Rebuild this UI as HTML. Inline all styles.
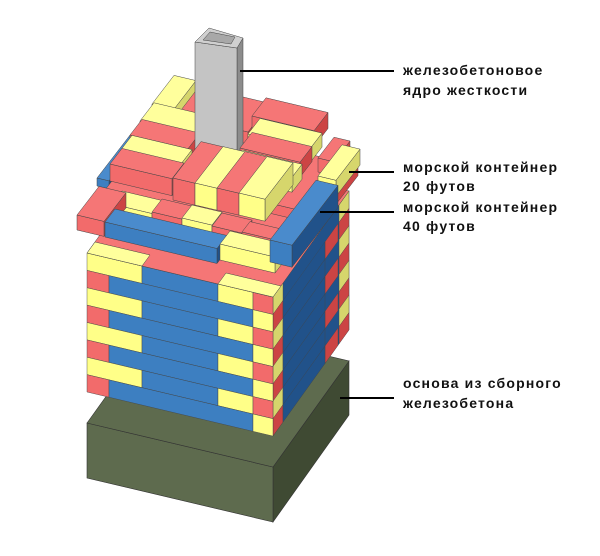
<!DOCTYPE html>
<html><head><meta charset="utf-8"><style>
html,body{margin:0;padding:0;background:#fff;}
svg{display:block;}
text{font-family:"Liberation Sans",sans-serif;font-size:14px;font-weight:bold;letter-spacing:1.2px;fill:#111;}
</style></head><body>
<svg id="s" width="600" height="556" viewBox="0 0 600 556" xmlns="http://www.w3.org/2000/svg">
<polygon points="273,467 349,361 349,415 273,522" fill="#3f4a33" stroke="#333" stroke-width="0.6"/>
<polygon points="87,423 273,467 273,522 87,478" fill="#5e6b4e" stroke="#333" stroke-width="0.6"/>
<polygon points="87,423 273,467 349,361 163,317" fill="#5e6b4e" stroke="#333" stroke-width="0.6"/>
<g id="tower"></g>
<g id="top"></g>
<line x1="240" y1="71" x2="394" y2="71" stroke="#000" stroke-width="2"/>
<line x1="349" y1="172" x2="394" y2="172" stroke="#000" stroke-width="2"/>
<line x1="320" y1="212" x2="394" y2="212" stroke="#000" stroke-width="2"/>
<line x1="340" y1="398" x2="394" y2="398" stroke="#000" stroke-width="2"/>
<text x="403" y="75">железобетоновое</text>
<text x="403" y="95">ядро жесткости</text>
<text x="403" y="172">морской контейнер</text>
<text x="403" y="191">20 футов</text>
<text x="403" y="212">морской контейнер</text>
<text x="403" y="231">40 футов</text>
<text x="403" y="388">основа из сборного</text>
<text x="403" y="408">железобетона</text>
</svg>
<script>
var NS="http://www.w3.org/2000/svg";
var C={Y:["#ffff88","#ffff9c","#d6d66c"],R:["#f26b6b","#f57676","#cc4444"],B:["#3d7fc1","#4a8bcc","#21528a"]};
function poly(g,pts,fill){var p=document.createElementNS(NS,"polygon");p.setAttribute("points",pts.map(function(a){return a[0].toFixed(1)+","+a[1].toFixed(1)}).join(" "));p.setAttribute("fill",fill);p.setAttribute("stroke","#444");p.setAttribute("stroke-width","0.5");p.setAttribute("stroke-linejoin","round");g.appendChild(p);return p;}
function rectT(g,m,x,y,w,h,fill){var r=document.createElementNS(NS,"rect");r.setAttribute("x",x);r.setAttribute("y",y);r.setAttribute("width",w);r.setAttribute("height",h);r.setAttribute("fill",fill);r.setAttribute("stroke","#444");r.setAttribute("stroke-width","0.4");r.setAttribute("transform","matrix("+m+")");g.appendChild(r);}
var s=0.237,t=1.3;
function box(g,x,y,w,d,h,c){var k=C[c];
 poly(g,[[x+w,y+s*w],[x+w+d,y+s*w-t*d],[x+w+d,y+s*w-t*d-h],[x+w,y+s*w-h]],k[2]);
 poly(g,[[x,y],[x+w,y+s*w],[x+w,y+s*w-h],[x,y-h]],k[0]);
 poly(g,[[x,y-h],[x+w,y+s*w-h],[x+w+d,y+s*w-h-t*d],[x+d,y-h-t*d]],k[1]);}
var T=document.getElementById("tower");
var mr="1,-1.395,0,1,273,297";
rectT(T,mr,0,0,76,139,"#21528a");
var lh=139/8;
for(var i=0;i<8;i++){var y=i*lh;
 rectT(T,mr,0,y,10,lh,i%2?"#cc4444":"#d6d66c");
 if(i%2) rectT(T,mr,52,y,13,lh,"#cc4444");
 rectT(T,mr,66,y,10,lh,i%2?"#cc4444":"#d6d66c");
 if(i>0) rectT(T,mr,10,y,42,lh,"#21528a");
}
var mf="1,0.237,0,1,87,253";
for(var i=0;i<8;i++){var y=i*lh;
 if(i%2==0){rectT(T,mf,0,y,55,lh,"#ffff88");rectT(T,mf,55,y,76,lh,"#3d7fc1");rectT(T,mf,131,y,35,lh,"#ffff88");rectT(T,mf,166,y,20,lh,"#f26b6b");}
 else{rectT(T,mf,0,y,22,lh,"#f26b6b");rectT(T,mf,22,y,144,lh,"#3d7fc1");rectT(T,mf,166,y,20,lh,"#ffff88");}
}
poly(T,[[87,253],[273,297],[349,191],[163,147]],"#f57676");
poly(T,[[87,253],[142,266],[150,255],[95,242]],"#ffff9c");
poly(T,[[218,284],[273,297],[281,286],[226,273]],"#ffff9c");
var G=document.getElementById("top");
box(G,97,186,12,34,8,"B");
box(G,105,200,90,38,10,"R");
box(G,235,205,85,38,10,"R");
box(G,168,125,80,22,12,"R");
box(G,152,114,22,22,10,"Y");
box(G,252,132,62,14,16,"R");
box(G,318,172,16,16,14,"R");
box(G,248,148,62,12,14,"Y");
box(G,140,133,55,14,12,"Y");
box(G,130,150,58,12,15,"R");
poly(G,[[237,48],[243,38],[243,148],[237,158]],"#8c8c8c");
poly(G,[[195,42],[237,48],[237,158],[195,152]],"#c4c4c4");
poly(G,[[195,42],[237,48],[243,38],[209,28]],"#d0d0d0");
poly(G,[[203,40],[231,44],[235,37],[210,32]],"#a8a8a8");
box(G,240,163,60,12,15,"R");
box(G,232,178,60,10,15,"Y");
box(G,120,166,60,12,15,"Y");
box(G,110,181,62,12,17,"R");
box(G,112,216,40,10,12,"Y");
box(G,152,224,30,10,12,"R");
box(G,182,230,30,10,12,"Y");
box(G,212,238,30,10,12,"R");
box(G,242,244,32,8,12,"R");
box(G,173,200,22,28,22,"R");
box(G,195,205,22,28,22,"Y");
box(G,217,210,22,28,22,"R");
box(G,239,215,26,28,22,"Y");
box(G,77,230,27,22,15,"R");
box(G,318,192,18,24,16,"Y");
box(G,105,237,112,10,15,"B");
box(G,220,260,55,10,16,"Y");
box(G,270,262,22,46,22,"B");
</script>
</body></html>
